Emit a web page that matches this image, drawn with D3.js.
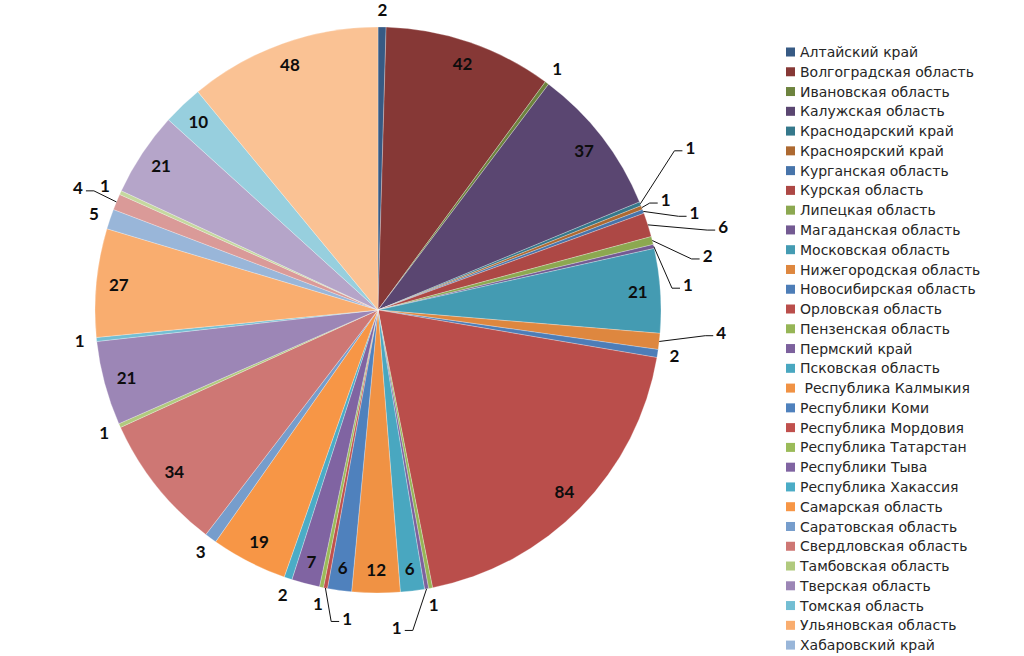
<!DOCTYPE html>
<html>
<head>
<meta charset="utf-8">
<script src="https://cdn.jsdelivr.net/npm/d3@7"></script>
<style>
  body { margin: 0; background: #fff; }
  svg { display: block; }
</style>
</head>
<body>
<div id="chart"></div>
<script>
const regions = [
  "Алтайский край", "Волгоградская область", "Ивановская область", "Калужская область",
  "Краснодарский край", "Красноярский край", "Курганская область", "Курская область",
  "Липецкая область", "Магаданская область", "Московская область", "Нижегородская область",
  "Новосибирская область", "Орловская область", "Пензенская область", "Пермский край",
  "Псковская область", " Республика Калмыкия", "Республики Коми", "Республика Мордовия",
  "Республика Татарстан", "Республики Тыва", "Республика Хакассия", "Самарская область",
  "Саратовская область", "Свердловская область", "Тамбовская область", "Тверская область",
  "Томская область", "Ульяновская область", "Хабаровский край"
];

// the last five slices belong to legend rows below the visible area
const counts = [
  2, 42, 1, 37, 1, 1, 1, 6, 2, 1, 21, 4, 2, 84, 1, 1, 6, 12,
  6, 1, 1, 7, 2, 19, 3, 34, 1, 21, 1, 27, 5, 4, 1, 21, 10, 48
];

const accents = ["#4F81BD", "#C0504D", "#9BBB59", "#8064A2", "#4BACC6", "#F79646"];
// one shade per round of six slices: negative = darker, positive = lighter
const shades = [-0.3, -0.1, -0.03, 0, 0.22, 0.42];

// labels moved off the slice with a leader line: [angle shift in degrees, radius]
const leaders = {
  4: [-5.4, 352], 5: [0.3, 308], 6: [3.4, 331], 7: [4.0, 355], 8: [4.9, 334],
  9: [8.4, 311], 11: [-2.6, 344], 15: [6.5, 318], 19: [-5.0, 310], 31: [-0.3, 324]
};

const width = 1024, height = 656;
const cx = 378, cy = 310, radius = 283;

const color = i => {
  const s = shades[Math.floor(i / 6)];
  const base = accents[i % 6];
  return s < 0 ? d3.interpolateRgb(base, "#000")(-s) : d3.interpolateRgb(base, "#fff")(s);
};

const svg = d3.select("#chart")
  .append("svg")
  .attr("width", width)
  .attr("height", height)
  .attr("viewBox", [0, 0, width, height]);

const pie = d3.pie().sort(null).value(d => d);
const arcs = pie(counts);
const arc = d3.arc().innerRadius(0).outerRadius(radius);

const g = svg.append("g").attr("transform", `translate(${cx},${cy})`);

g.selectAll("path")
  .data(arcs)
  .join("path")
  .attr("d", arc)
  .attr("fill", (d, i) => color(i))
  .attr("stroke", "#fff")
  .attr("stroke-opacity", 0.45)
  .attr("stroke-width", 0.6);

const polar = (a, r) => [r * Math.sin(a), -r * Math.cos(a)];
const mid = d => (d.startAngle + d.endAngle) / 2;

const labels = arcs.map((d, i) => {
  const a = mid(d);
  if (leaders[i]) {
    const [shift, r] = leaders[i];
    return { d, i, pos: polar(a + shift * Math.PI / 180, r), leader: true };
  }
  const r = d.value >= 6 ? radius * 0.92 : radius + 17;
  return { d, i, pos: polar(a, r), leader: false };
});

g.selectAll("polyline")
  .data(labels.filter(l => l.leader))
  .join("polyline")
  .attr("fill", "none")
  .attr("stroke", "#111")
  .attr("stroke-width", 1)
  .attr("points", l => {
    const edge = polar(mid(l.d), radius);
    const dir = l.pos[0] >= edge[0] ? 1 : -1;
    const half = String(l.d.value).length * 5;
    const endX = l.pos[0] - dir * (half + 3);
    const y = l.pos[1] + 3;
    return [edge, [endX - dir * 8, y], [endX, y]].map(p => p.join(",")).join(" ");
  });

g.selectAll("text")
  .data(labels)
  .join("text")
  .attr("x", l => l.pos[0])
  .attr("y", l => l.pos[1])
  .attr("dy", "0.36em")
  .attr("text-anchor", "middle")
  .attr("font-family", "Lato, 'Open Sans', sans-serif")
  .attr("font-weight", "bold")
  .attr("font-size", 17)
  .attr("fill", "#0d0d0d")
  .text(l => l.d.value);

const legend = svg.append("g")
  .attr("transform", "translate(786,52)");

const row = legend.selectAll("g")
  .data(regions)
  .join("g")
  .attr("transform", (d, i) => `translate(0,${i * 19.77})`);

row.append("rect")
  .attr("x", 0)
  .attr("y", -4.5)
  .attr("width", 9)
  .attr("height", 9)
  .attr("fill", (d, i) => color(i));

row.append("text")
  .attr("x", 14)
  .attr("dy", "0.36em")
  .attr("font-family", "'DejaVu Sans', Verdana, sans-serif")
  .attr("font-size", 14)
  .attr("fill", "#262626")
  .style("white-space", "pre")
  .text(d => d);
</script>
</body>
</html>
